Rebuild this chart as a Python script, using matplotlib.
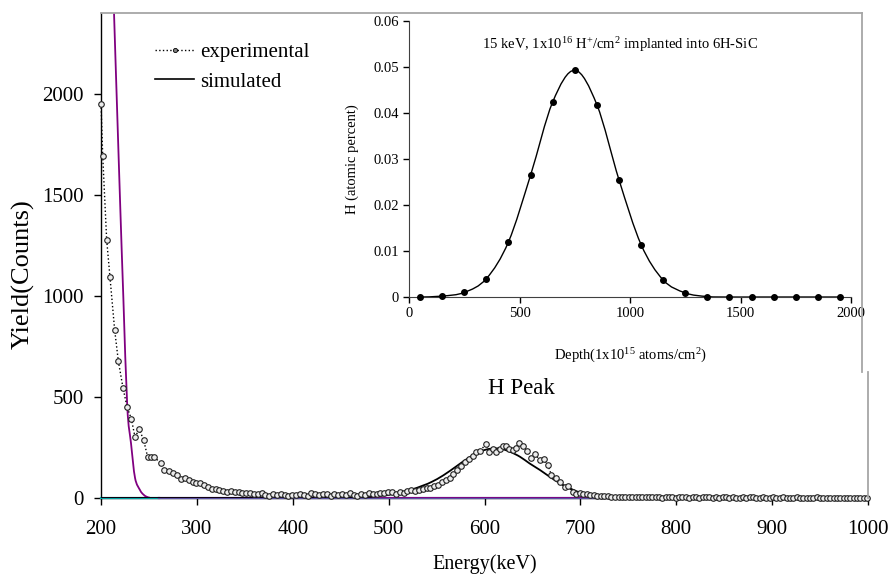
import numpy as np
import matplotlib
matplotlib.use("Agg")
import matplotlib.pyplot as plt
from matplotlib.path import Path
from matplotlib.patches import PathPatch
from matplotlib.lines import Line2D

plt.rcParams['font.family'] = ['Liberation Serif', 'DejaVu Serif']
plt.rcParams['mathtext.fontset'] = 'custom'
plt.rcParams['mathtext.rm'] = 'Liberation Serif'
plt.rcParams['mathtext.it'] = 'Liberation Serif:italic'

# ---------------- main spectrum: experimental ----------------
exp_energy = [
    200.0, 201.8, 205.9, 209.4, 214.2, 218.1, 222.9, 227.1, 231.6, 235.4,
    240.0, 244.5, 248.6, 252.1, 255.5, 262.2, 266.0, 270.5, 274.7, 278.9,
    283.4, 287.6,
    291.5, 295.5, 299.5, 303.5, 307.5, 311.5, 315.5, 319.5, 323.5, 327.5,
    331.5, 335.5, 339.5, 343.5, 347.5, 351.5, 355.5, 359.5, 363.5, 367.5,
    371.5, 375.5, 379.5, 383.5, 387.5, 391.5, 395.5, 399.5, 403.5, 407.5,
    411.5, 415.5, 419.5, 423.5, 427.5, 431.5, 435.5, 439.5, 443.5, 447.5,
    451.5, 455.5, 459.5, 463.5, 467.5, 471.5, 475.5, 479.5, 483.5, 487.5,
    491.5, 495.5, 499.5, 503.5, 507.5, 511.5, 515.5, 519.5, 523.5, 527.5,
    531.5, 535.5, 539.5, 543.5, 547.5, 551.5, 555.5, 559.5, 563.5, 567.5,
    571.5, 575.5, 579.5, 583.5, 587.5, 591.5,
    595.0, 601.7, 605.0, 608.5, 612.0, 616.0, 619.0, 622.5, 626.0, 629.5,
    633.0, 636.0, 640.0, 644.3, 649.0, 653.0, 657.5, 661.7, 666.2, 669.7,
    675.0, 678.4, 683.6, 687.0, 692.3, 695.8, 699.5, 703.0, 706.5, 710.0,
    714.0, 717.5, 721.0, 725.0, 728.5, 732.0, 736.0,
    740.0, 743.5, 747.0, 750.5, 754.0, 757.5, 761.0, 764.5, 768.0, 771.5,
    775.0, 778.5, 782.0, 785.5, 789.0, 792.5, 796.0, 799.5, 803.0, 806.5,
    810.0, 813.5, 817.0, 820.5, 824.0, 827.5, 831.0, 834.5, 838.0, 841.5,
    845.0, 848.5, 852.0, 855.5, 859.0, 862.5, 866.0, 869.5, 873.0, 876.5,
    880.0, 883.5, 887.0, 890.5, 894.0, 897.5, 901.0, 904.5, 908.0, 911.5,
    915.0, 918.5, 922.0, 925.5, 929.0, 932.5, 936.0, 939.5, 943.0, 946.5,
    950.0, 953.5, 957.0, 960.5, 964.0, 967.5, 971.0, 974.5, 978.0, 981.5,
    985.0, 988.5, 992.0, 995.5, 999.0,
]
exp_counts = [
    1950, 1690, 1277, 1092, 833, 676, 546, 451, 392, 303,
    339, 286, 204, 204, 204, 171, 141, 135, 122, 114,
    94, 97,
    88, 80, 74, 72, 64, 52, 46, 44, 42, 36,
    31, 34, 29, 31, 26, 24, 27, 21, 19, 23,
    14, 12, 18, 16, 20, 14, 12, 17, 15, 18,
    13, 10, 27, 22, 16, 21, 18, 12, 19, 14,
    21, 15, 23, 17, 12, 20, 13, 25, 18, 21,
    27, 23, 31, 29, 21, 31, 27, 36, 39, 33,
    40, 46, 48, 50, 59, 66, 79, 90, 99, 118,
    140, 158, 180, 192, 209, 228,
    233, 266, 230, 242, 228, 240, 257, 258, 240, 237,
    245, 273, 257, 233, 196, 216, 188, 191, 163, 114,
    97, 80, 53, 59, 31, 20, 23, 18, 20, 16,
    14, 12, 10, 12, 8, 7, 5,
    5, 4, 6, 4, 3, 5, 4, 3, 4, 3,
    5, 3, 4, 2, 3, 4, 3, 2, 4, 3,
    3, 2, 4, 3, 2, 3, 3, 4, 2, 3,
    2, 3, 4, 2, 3, 2, 2, 3, 2, 3,
    3, 2, 2, 3, 2, 2, 3, 2, 2, 3,
    2, 1, 2, 3, 2, 2, 1, 2, 2, 3,
    2, 1, 2, 2, 1, 2, 2, 1, 2, 2,
    1, 2, 1, 2, 1,
]

# ---------------- main spectrum: simulated H peak ----------------
sim_energy = [200, 440, 470, 490, 505, 522, 536, 545, 557, 571, 580, 592,
              602, 610, 617, 626.5, 637, 647, 658, 668, 679, 689, 700, 710,
              720, 731, 745, 800, 1000]
sim_counts = [0, 0, 3, 10, 20, 39, 62, 80, 112, 158, 188, 222,
              240, 245, 244, 229, 204, 171, 138, 105, 72, 48, 26, 15,
              6, 2, 0, 0, 0]

# simulated surface edge (purple) and baseline components
edge_energy = [211.0, 213.6, 216.8, 220.0, 223.3, 227.4, 231.3, 235.5, 240.7,
               244.0, 247.6, 251.0, 258.0, 1000.0]
edge_counts = [2800, 2394, 1920, 1450, 990, 451, 270, 99, 39,
               18, 6, 1, 0, 0]
base1_energy = [200, 260]
base1_counts = [0, 0]
base2_energy = [260, 1000]
base2_counts = [0, 0]

# ---------------- inset: depth profile ----------------
depth = [50, 150, 250, 350, 450, 550, 650, 750, 850, 950,
         1050, 1150, 1250, 1350, 1450, 1550, 1650, 1750, 1850, 1950]
h_percent = [0.0, 0.0002, 0.001, 0.004, 0.012, 0.0265, 0.0424, 0.0493, 0.0418, 0.0255,
             0.0114, 0.0037, 0.0009, 0.0001, 0.0, 0.0, 0.0, 0.0, 0.0, 0.0]

main_xticks = [200, 300, 400, 500, 600, 700, 800, 900, 1000]
main_yticks = [0, 500, 1000, 1500, 2000]
inset_xticks = [0, 500, 1000, 1500, 2000]
inset_yticks = [0, 0.01, 0.02, 0.03, 0.04, 0.05, 0.06]


def smooth_patch(ax, x, y, **kw):
    """Catmull-Rom style smoothed line through the given points (like a spreadsheet 'smoothed line')."""
    P = np.column_stack([np.asarray(x, float), np.asarray(y, float)])
    n = len(P)
    verts = [P[0]]
    codes = [Path.MOVETO]
    for i in range(n - 1):
        p0 = P[i - 1] if i > 0 else P[i]
        p1 = P[i]
        p2 = P[i + 1]
        p3 = P[i + 2] if i + 2 < n else P[i + 1]
        c1 = p1 + (p2 - p0) / 6.0
        c2 = p2 - (p3 - p1) / 6.0
        verts += [c1, c2, p2]
        codes += [Path.CURVE4] * 3
    patch = PathPatch(Path(verts, codes), fill=False, **kw)
    ax.add_patch(patch)
    return patch


W, H = 890, 579
fig = plt.figure(figsize=(W / 100, H / 100), dpi=100)
ax = fig.add_axes([0.1135, 0.1399, 0.8618, 0.8377])

# baselines
ax.plot(base1_energy, base1_counts, color='#00a3a3', lw=1.6, zorder=3, clip_on=False)
ax.plot(base2_energy, base2_counts, color='#5a52a5', lw=1.6, zorder=3, clip_on=False)
# purple edge
smooth_patch(ax, edge_energy, edge_counts, edgecolor='#800080', lw=1.3, zorder=4)
# simulated H peak
smooth_patch(ax, sim_energy, sim_counts, edgecolor='black', lw=1.3, zorder=5)
# experimental
ax.plot(exp_energy, exp_counts, ls=':', color='black', lw=1.0, marker='o', ms=4.0,
        mfc='#ececec', mec='#202020', mew=0.8, zorder=6, clip_on=False)

# legend handles
h_exp, = ax.plot([], [], ls=':', color='black', lw=1.0, marker='o', ms=3, mfc='#808080',
                 mec='black', mew=0.6)
h_sim, = ax.plot([], [], ls='-', color='black', lw=1.2)
ax.legend([h_exp, h_sim], ['experimental', 'simulated'], loc='upper left',
          bbox_to_anchor=(0.051, 0.969), frameon=False, fontsize=15,
          handlelength=1.9, handletextpad=0.3, labelspacing=0.48, borderpad=0.2)

ax.set_xlim(200, 1000)
ax.set_ylim(0, 2400)
ax.set_xticks(main_xticks)
ax.set_yticks(main_yticks)
ax.tick_params(axis='both', direction='out', length=5, width=1, labelsize=15, colors='black')
ax.tick_params(axis='x', pad=11)
ax.tick_params(axis='y', pad=7.5)
ax.spines['top'].set_visible(False)
ax.spines['right'].set_visible(False)
for s in ['left', 'bottom']:
    ax.spines[s].set_color('black')
    ax.spines[s].set_linewidth(1.0)
ax.set_xlabel('Energy(keV)', fontsize=14.5, labelpad=11)
ax.set_ylabel('Yield(Counts)', fontsize=19)
ax.yaxis.set_label_coords(-0.087, 0.462)
ax.text(638, 543, 'H Peak', ha='center', va='center', fontsize=16.5)

# grey plot-area borders (main plot area partly covered by the inset chart box)
grey = '#a6a6a6'
def fig_line(x0, y0, x1, y1):
    fig.add_artist(Line2D([x0 / W, x1 / W], [1 - y0 / H, 1 - y1 / H],
                          transform=fig.transFigure, color=grey, lw=1.3))
fig_line(101, 13, 862, 13)
fig_line(862, 13, 862, 372)
fig_line(868, 372, 868, 498)

# ---------------- inset ----------------
ax2 = fig.add_axes([0.4596, 0.487, 0.4966, 0.4767])
ax2.patch.set_alpha(0)
smooth_patch(ax2, depth, h_percent, edgecolor='black', lw=1.0, zorder=3)
ax2.plot(depth, h_percent, ls='none', marker='o', ms=4, color='black', zorder=4, clip_on=False)
ax2.set_xlim(0, 2000)
ax2.set_ylim(0, 0.06)
ax2.set_xticks(inset_xticks)
ax2.set_yticks(inset_yticks)
ax2.set_yticklabels(['0' if v == 0 else f'{v:.2f}' for v in inset_yticks])
ax2.tick_params(axis='both', direction='out', length=4, width=1, labelsize=10.5)
ax2.spines['top'].set_visible(False)
ax2.spines['right'].set_visible(False)
for s in ['left', 'bottom']:
    ax2.spines[s].set_color('#404040')
ax2.set_xlabel(r'Depth(1x10$^{15}$ atoms/cm$^{2}$)', fontsize=10.5, labelpad=19)
ax2.set_ylabel('H (atomic percent)', fontsize=10.5, labelpad=10)
ax2.text(0.477, 0.913, r'15 keV, 1x10$^{16}$ H$^{+}$/cm$^{2}$ implanted into 6H-SiC',
         transform=ax2.transAxes, ha='center', va='center', fontsize=10.5)

fig.savefig('out.png', dpi=100)
